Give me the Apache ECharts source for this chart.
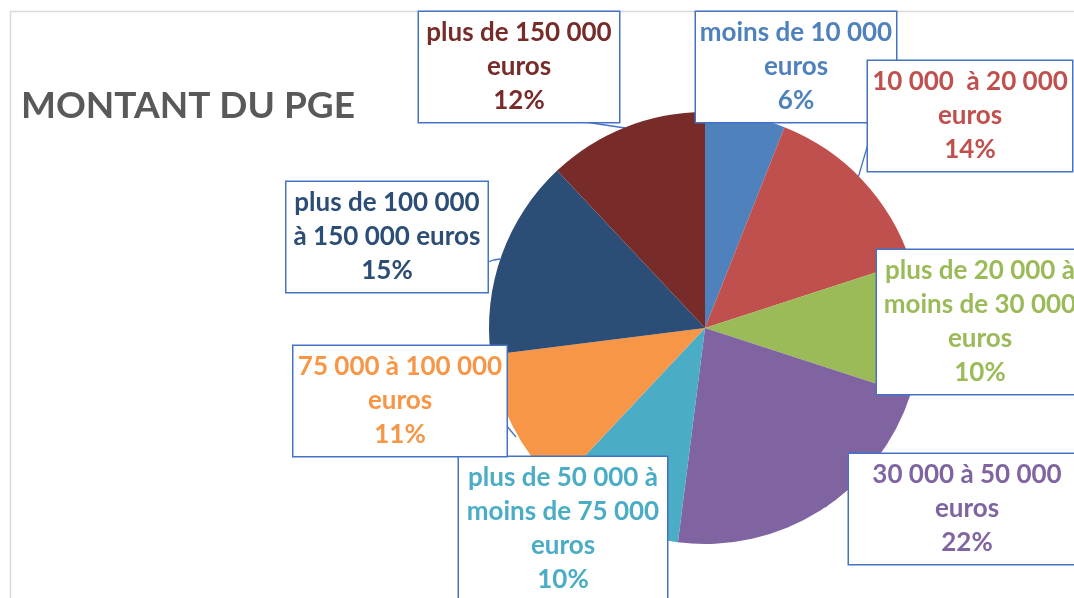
<!DOCTYPE html>
<html>
<head>
<meta charset="utf-8">
<script src="https://cdn.jsdelivr.net/npm/echarts@6/dist/echarts.min.js"></script>
<style>
  html, body { margin: 0; padding: 0; background: #fff; }
  #chart { width: 1074px; height: 598px; }
</style>
</head>
<body>
<div id="chart"></div>
<script>
// tranches du PGE, dans l'ordre horaire depuis le haut
const categories = [
  'moins de 10 000\neuros',
  '10 000  à 20 000\neuros',
  'plus de 20 000 à\nmoins de 30 000\neuros',
  '30 000 à 50 000\neuros',
  'plus de 50 000 à\nmoins de 75 000\neuros',
  '75 000 à 100 000\neuros',
  'plus de 100 000\nà 150 000 euros',
  'plus de 150 000\neuros'
]
const values = [6, 14, 10, 22, 10, 11, 15, 12]
const colors = ['#4F81BD', '#C0504D', '#9BBB59', '#8064A2', '#4BACC6', '#F79646', '#2C4D75', '#772C2A']

// position des encadrés (centre x, haut y, largeur) et pointeurs
const boxes = [
  { cx: 796, top: 12, w: 200, line: null },
  { cx: 970, top: 61, w: 204, line: [[858, 178], [863, 161], [868, 144]] },
  { cx: 980, top: 250, w: 206, line: null },
  { cx: 967, top: 454, w: 236, line: [[825, 507], [837, 497], [849, 488]] },
  { cx: 563, top: 457, w: 208, line: null },
  { cx: 400, top: 346, w: 213, line: [[516, 437], [511, 431], [506, 425]] },
  { cx: 387, top: 182, w: 201, line: [[500, 259], [494, 260], [488, 262]] },
  { cx: 519, top: 12, w: 200, line: [[625, 128], [605, 125], [585, 122]] }
]

const chart = echarts.init(document.getElementById('chart'))

const option = {
  animation: false,
  title: {
    text: 'MONTANT DU PGE',
    left: 16,
    top: 83,
    textStyle: {
      fontFamily: 'Lato',
      fontSize: 37,
      fontWeight: 'bold',
      color: '#595959'
    }
  },
  graphic: [
    {
      type: 'rect',
      z: -1,
      shape: { x: 10.5, y: 11.5, width: 1200, height: 800 },
      style: { fill: 'none', stroke: '#d9d9d9', lineWidth: 1.5 }
    }
  ],
  series: [
    {
      type: 'pie',
      center: [705, 328],
      radius: 216,
      startAngle: 90,
      clockwise: true,
      avoidLabelOverlap: false,
      label: {
        show: true,
        position: 'outside',
        formatter: '{b}\n{c}%',
        fontFamily: 'Lato',
        fontSize: 26,
        fontWeight: 'bold',
        lineHeight: 34,
        align: 'center',
        backgroundColor: '#fff',
        borderColor: '#4472C4',
        borderWidth: 1.5,
        padding: [4, 0],
        overflow: 'none'
      },
      labelLine: {
        show: true,
        lineStyle: { color: '#4472C4', width: 1.3 }
      },
      labelLayout: (params) => {
        const b = boxes[params.dataIndex]
        const res = {
          x: b.cx,
          y: b.top,
          align: 'center',
          verticalAlign: 'top'
        }
        if (b.line) res.labelLinePoints = b.line
        return res
      },
      data: values.map((v, i) => ({
        name: categories[i],
        value: v,
        itemStyle: { color: colors[i] },
        label: { color: colors[i], width: boxes[i].w },
        labelLine: { show: !!boxes[i].line }
      }))
    }
  ]
}

chart.setOption(option)
</script>
</body>
</html>
